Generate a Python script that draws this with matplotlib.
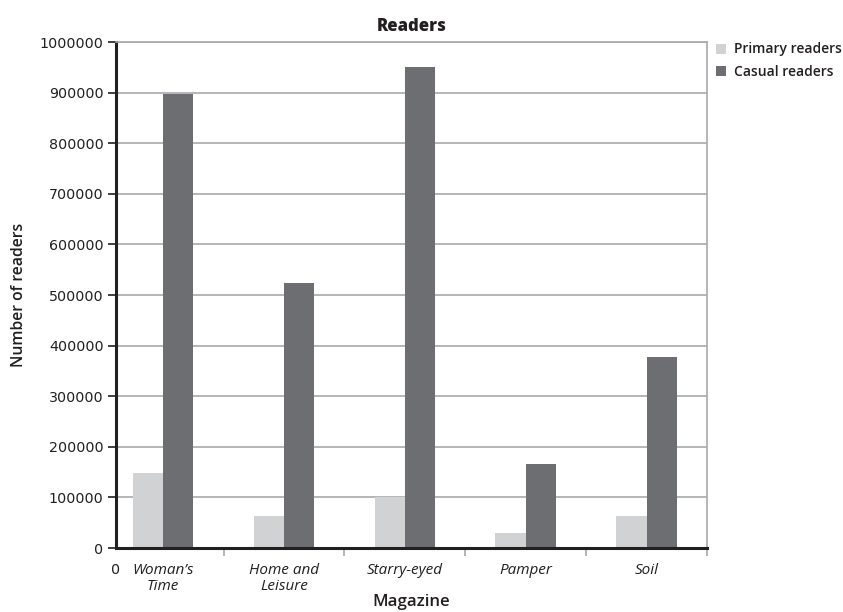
import matplotlib
matplotlib.use("Agg")
import matplotlib.pyplot as plt
import matplotlib.transforms as mtransforms
import numpy as np

categories = ["Woman\u2019s\nTime", "Home and\nLeisure", "Starry-eyed", "Pamper", "Soil"]
primary = [148000, 63000, 100000, 30000, 63000]
casual = [897000, 523000, 950000, 166000, 377000]
series_names = ["Primary readers", "Casual readers"]
yticks = list(range(0, 1000001, 100000))

c_primary = "#d1d2d4"
c_casual = "#6d6e71"

plt.rcParams['font.family'] = ['Open Sans', 'DejaVu Sans']

fig = plt.figure(figsize=(8.43, 6.12), dpi=100)
ax = fig.add_axes([116/843, 1-548/612, (707-116)/843, (548-42)/612])

x = np.arange(len(categories))
w = 0.25
ax.bar(x - w/2, primary, width=w, color=c_primary, label=series_names[0], zorder=3)
ax.bar(x + w/2, casual, width=w, color=c_casual, label=series_names[1], zorder=3)

ax.set_xlim(-0.39, 4.5)
ax.set_ylim(0, 1000000)
ax.set_yticks(yticks)
ax.set_yticklabels([str(v) for v in yticks], family='DejaVu Sans', fontsize=10.3, color='#231f20')
ax.grid(axis='y', color='#a7a9ac', linewidth=1.2, zorder=0)
ax.tick_params(axis='y', length=6, width=1.2, color='#231f20', pad=3)

ax.set_xticks(x)
ax.set_xticklabels(categories, style='italic', fontsize=11, color='#231f20', linespacing=1.1, va='top')
ax.tick_params(axis='x', which='major', length=0, pad=11)
ax.set_xticks(np.arange(0.5, 5, 1), minor=True)
ax.tick_params(axis='x', which='minor', length=6, width=1.2, color='#a7a9ac')

for s in ['top', 'right']:
    ax.spines[s].set_color('#a7a9ac')
    ax.spines[s].set_linewidth(1.2)
for s in ['left', 'bottom']:
    ax.spines[s].set_color('#231f20')
    ax.spines[s].set_linewidth(2.2)
ax.spines['bottom'].set_zorder(4)

trans = mtransforms.blended_transform_factory(ax.transData, ax.transAxes)
ax.text(-0.39, -15/506, "0", transform=trans, ha='center', va='top', fontsize=10.3, color='#231f20', family='DejaVu Sans')

ax.set_title("Readers", fontsize=12, fontweight='heavy', color='#231f20', pad=8)
ax.set_ylabel("Number of readers", fontsize=11.3, fontweight='semibold', color='#231f20', labelpad=9)
ax.set_xlabel("Magazine", fontsize=12.2, fontweight='semibold', color='#231f20', labelpad=0)

leg = ax.legend(loc='upper left', bbox_to_anchor=(1.005, 1.01), frameon=False,
                fontsize=10, handlelength=0.75, handleheight=0.75, handletextpad=0.6,
                labelspacing=0.6, borderaxespad=0)
for t in leg.get_texts():
    t.set_fontweight('semibold')
    t.set_color('#231f20')

fig.savefig("out.png", dpi=100)
